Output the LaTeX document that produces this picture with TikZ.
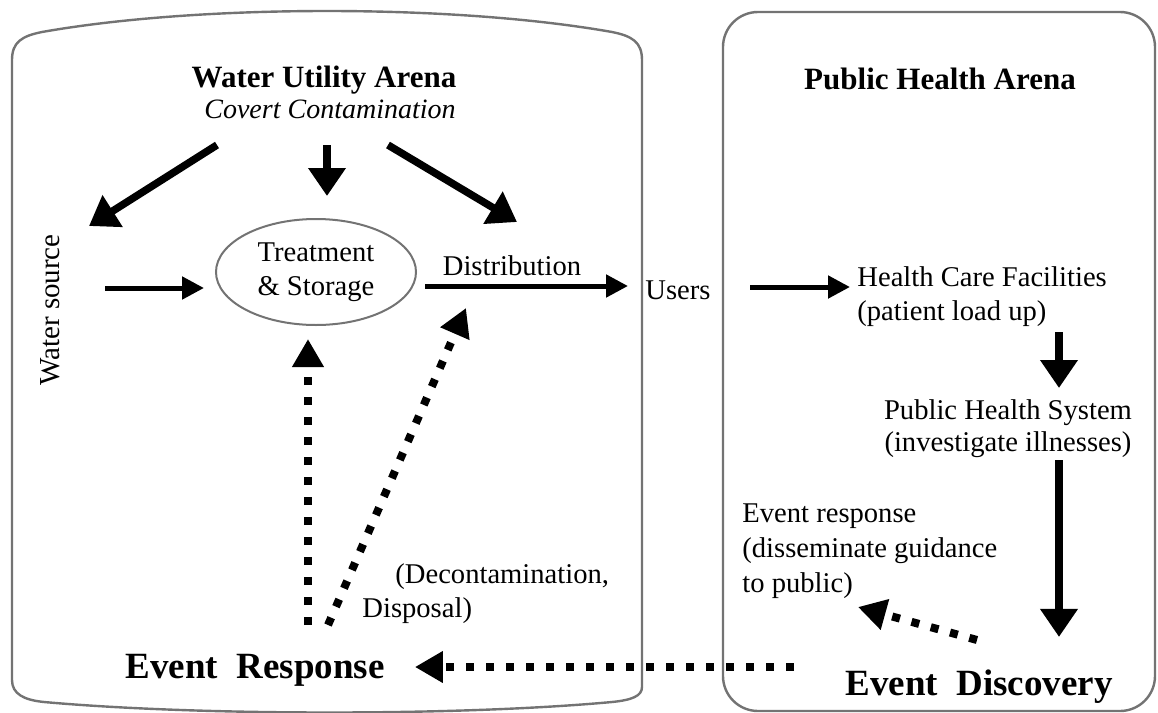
\documentclass[tikz,border=0pt]{standalone}
\usepackage{fontspec}
\setmainfont{Liberation Serif}
\usepackage{tikz}
\usetikzlibrary{arrows.meta,shapes.geometric}
\definecolor{boxgray}{RGB}{115,115,115}
\tikzset{
	txt/.style={font=\fontsize{14.3}{17}\selectfont, inner sep=0pt},
	arena/.style={font=\fontsize{15.5}{18}\selectfont\bfseries, inner sep=0pt},
	eventtxt/.style={font=\fontsize{18.5}{22}\selectfont\bfseries, inner sep=0pt},
	flow/.style={line width=2.5pt, -{Triangle[length=11pt,width=11pt]}},
	bigflow/.style={line width=3.75pt, -{Triangle[length=14pt,width=18pt]}},
	dotflow/.style={line width=4pt, dash pattern=on 4pt off 6pt, -{Triangle[length=14pt,width=15pt]}},
	arenabox/.style={draw=boxgray, line width=1.2pt},
}
\begin{document}
\begin{tikzpicture}[x=0.5pt,y=-0.5pt]
			\useasboundingbox (0,0) rectangle (1158,713);
			%%%	Arenas
			\draw[arenabox] (12,680) -- (12,60) .. controls (12,42) and (22,36) .. (42,32)
			.. controls (200,4) and (454,4) .. (612,32) .. controls (632,36) and (642,42) .. (642,60)
			-- (642,687) .. controls (642,696) and (632,700) .. (612,702)
			.. controls (460,716) and (200,716) .. (44,702) .. controls (24,700) and (12,694) .. (12,680) -- cycle;
			\draw[arenabox, rounded corners=17.5pt] (723,12) rectangle (1155,711);
			
			%%%	Texts
			\node[arena, anchor=base] (wua) at (324,87) {Water Utility Arena};
			\node[txt, anchor=base, font=\fontsize{14}{17}\selectfont\itshape] (covert) at (330,118) {Covert Contamination};
			\node[arena, anchor=base] (pha) at (940,89) {Public Health Arena};
			\node[txt, rotate=90, font=\fontsize{14.5}{17}\selectfont] (source) at (50,310) {Water source};
			\node[txt, ellipse, draw=boxgray, line width=1pt, minimum width=100pt, minimum height=53pt, align=center] (treat) at (316,272) {Treatment\\\& Storage};
			\node[txt, anchor=base] (dist) at (512,275) {Distribution};
			\node[txt, anchor=base west] (users) at (645,299) {Users};
			\node[txt, anchor=north west, align=left] (hcf) at (857,266) {Health Care Facilities\\(patient load up)};
			\node[txt, anchor=north, align=center, font=\fontsize{14.3}{16}\selectfont] (phs) at (1008,399) {Public Health System\\(investigate illnesses)};
			\node[txt, anchor=north west, align=left, font=\fontsize{14.3}{17.5}\selectfont] (pubresp) at (742,503) {Event response\\(disseminate guidance\\to public)};
			\node[txt, anchor=north west, align=left] (decon) at (362,563) {\hspace*{16.5pt}(Decontamination,\\Disposal)};
			\node[eventtxt, anchor=base] (evresp) at (255,678) {Event\ \ Response};
			\node[eventtxt, anchor=base] (evdisc) at (979,695) {Event\ \ Discovery};
			
			%%%	Free ends
			\coordinate (topL) at (217,145);
			\coordinate (topM) at (327,145);
			\coordinate (topR) at (388,145);
			\coordinate (srcTip) at (89,226);
			\coordinate (distTip) at (517,222);
			\coordinate (srcOut) at (105,288);
			\coordinate (distOut) at (425,286);
			\coordinate (usersOut) at (750,287);
			\coordinate (hcfOut) at (1059,332);
			\coordinate (phsOut) at (1059,460);
			\coordinate (discOut) at (977,640);
			\coordinate (pubTip) at (858,607);
			\coordinate (hline) at (0,667);
			\coordinate (respA) at (308,625);
			\coordinate (respB) at (328,625);
			\coordinate (distIn) at (466,308);
			
			%%%	Solid arrows
			\draw[bigflow] (topL) -- (srcTip);
			\draw[bigflow, shorten >=11pt] (topM) -- (topM |- treat.north);
			\draw[bigflow] (topR) -- (distTip);
			\draw[flow, shorten >=5.5pt] (srcOut) -- (srcOut -| treat.west);
			\draw[flow, shorten >=8.5pt] (distOut) -- (distOut -| users.west);
			\draw[flow, shorten >=3.5pt] (usersOut) -- (usersOut -| hcf.west);
			\draw[bigflow, shorten >=5.5pt] (hcfOut) -- (hcfOut |- phs.north);
			\draw[bigflow, shorten >=16pt] (phsOut) -- (phsOut |- evdisc.north);
			
			%%%	Dotted arrows
			\draw[dotflow] (discOut) -- (pubTip);
			\draw[dotflow, shorten <=25.5pt, shorten >=15pt] (evdisc.west |- hline) -- (evresp.east |- hline);
			\draw[dotflow, shorten >=6.5pt] (respA) -- (respA |- treat.south);
			\draw[dotflow] (respB) -- (distIn);
\end{tikzpicture}
\end{document}
